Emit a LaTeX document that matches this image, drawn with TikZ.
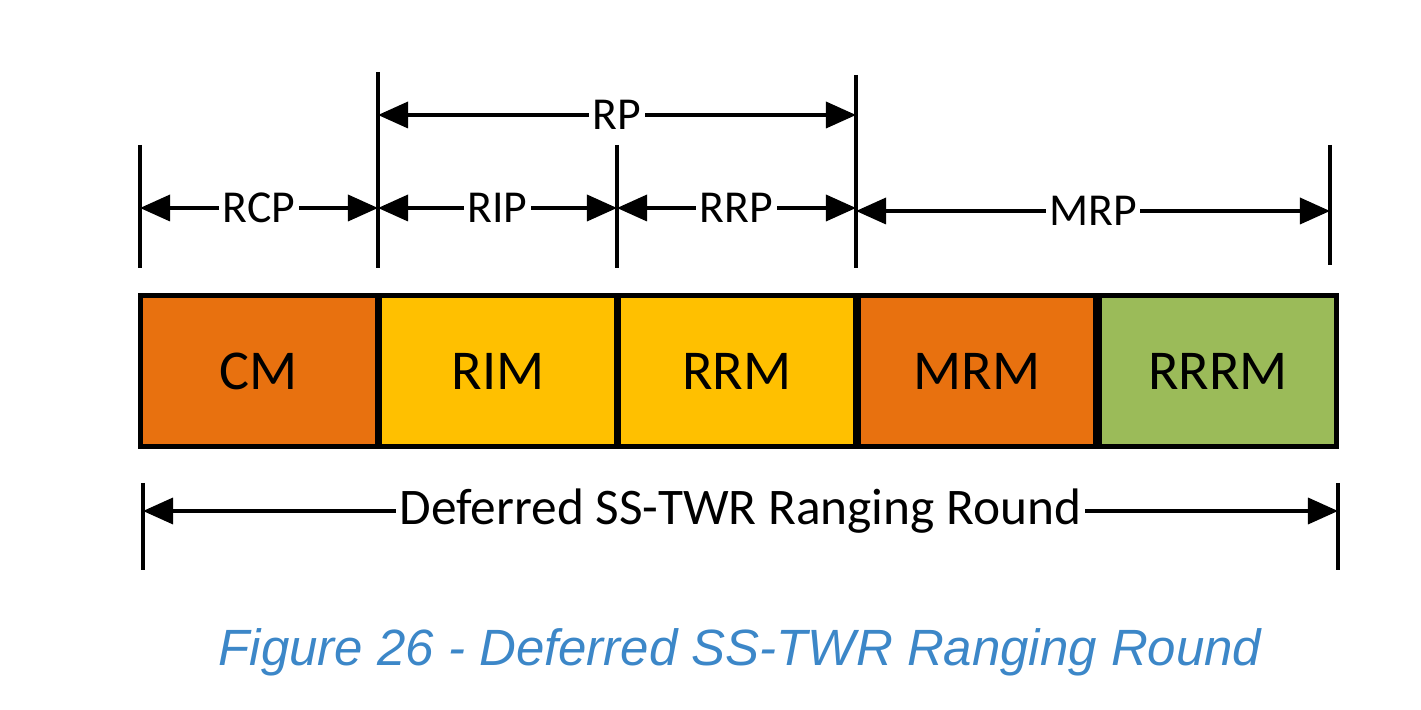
\documentclass[tikz,border=0pt]{standalone}
\usepackage{fontspec}
\setmainfont{Carlito}
\newfontfamily\capfont{Liberation Sans}
\usetikzlibrary{arrows.meta}
\definecolor{msgorange}{HTML}{E8710F}
\definecolor{msgyellow}{HTML}{FFC000}
\definecolor{msggreen}{HTML}{9BBB59}
\definecolor{capblue}{HTML}{3C87C8}
\tikzset{
  msg/.style={draw=black,line width=1.2pt,outer sep=0pt,minimum width=2.37cm,minimum height=1.51cm,inner sep=0pt,font=\fontsize{16}{18}\selectfont},
  span/.style={{Triangle[length=3mm,width=2.6mm]}-{Triangle[length=3mm,width=2.6mm]},line width=1pt},
  lbl/.style={fill=white,inner sep=1pt,font=\fontsize{13}{15}\selectfont},
  tick/.style={line width=1pt}
}
\begin{document}
\begin{tikzpicture}[x=0.01cm,y=-0.01cm]
  \useasboundingbox (0,0) rectangle (1421,710);

  % messages
  \node[msg,fill=msgorange] (cm) at (259,371) {CM};
  \node[msg,fill=msgyellow] (rim) at (498,371) {RIM};
  \node[msg,fill=msgyellow] (rrm) at (737,371) {RRM};
  \node[msg,fill=msgorange] (mrm) at (977,371) {MRM};
  \node[msg,fill=msggreen] (rrrm) at (1218,371) {RRRM};

  % ticks
  \coordinate (t1a) at (140,145); \coordinate (t1b) at (140,268);
  \coordinate (t2a) at (378,72);  \coordinate (t2b) at (378,268);
  \coordinate (t3a) at (617,145); \coordinate (t3b) at (617,268);
  \coordinate (t4a) at (856,75);  \coordinate (t4b) at (856,268);
  \coordinate (t5a) at (1330,145); \coordinate (t5b) at (1330,265);
  \coordinate (b1a) at (143,483); \coordinate (b1b) at (143,570);
  \coordinate (b2a) at (1338,483); \coordinate (b2b) at (1338,570);
  \foreach \t in {t1,t2,t3,t4,t5,b1,b2}
    \draw[tick] (\t a) -- (\t b);

  % periods
  \draw[span] (140,208) -- node[lbl] {RCP} (378,208);
  \draw[span] (378,208) -- node[lbl] {RIP} (617,208);
  \draw[span] (617,208) -- node[lbl] {RRP} (856,208);
  \draw[span] (856,211) -- node[lbl] {MRP} (1330,211);
  \draw[span] (378,115) -- node[lbl] {RP} (856,115);
  \draw[span] (143,511) -- node[lbl,font=\fontsize{14.6}{16}\selectfont] {Deferred SS-TWR Ranging Round} (1338,511);

  % caption
  \node[text=capblue,font=\capfont\itshape\fontsize{14.5}{17}\selectfont] (cap) at (740,652) {Figure 26 - Deferred SS-TWR Ranging Round};
\end{tikzpicture}
\end{document}
